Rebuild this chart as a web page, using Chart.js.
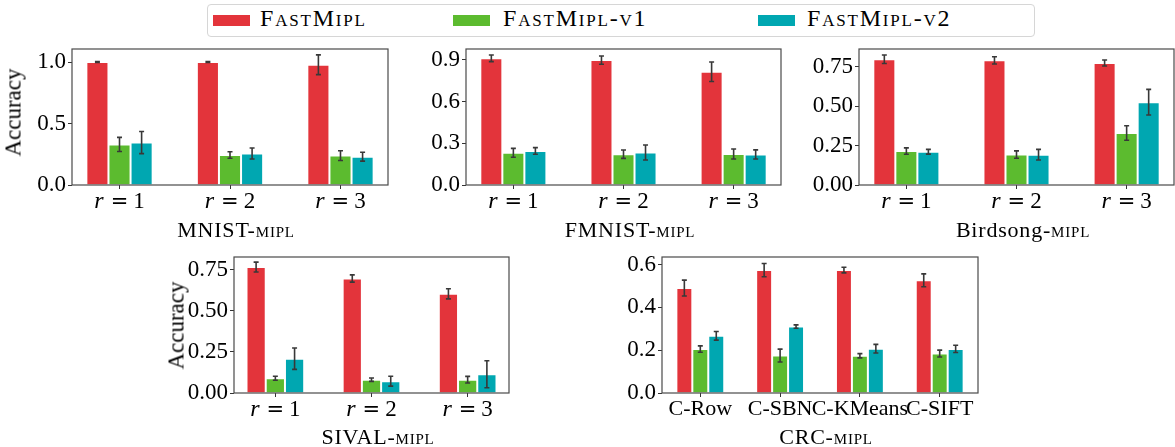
<!DOCTYPE html>
<html>
<head>
<meta charset="utf-8">
<script src="https://cdn.jsdelivr.net/npm/chart.js@4.4.1/dist/chart.umd.min.js"></script>
<style>
  html, body { margin: 0; padding: 0; background: #fff; }
  body { width: 1175px; height: 447px; position: relative; overflow: hidden; font-family: "Liberation Serif", "Times New Roman", serif; color: #000; }
  canvas { position: absolute; }
  .lgbox { position: absolute; left: 207px; top: 4px; width: 826px; height: 31px; border: 1px solid #d6d6d6; border-radius: 4px; background: #fff; }
  .sw { position: absolute; width: 37px; height: 11px; }
  .lt { position: absolute; font-size: 24px; line-height: 24px; top: 6px; font-variant: small-caps; letter-spacing: 1.8px; white-space: nowrap; }
  .ttl { position: absolute; width: 300px; text-align: center; font-size: 22px; line-height: 22px; white-space: nowrap; letter-spacing: 0.8px; z-index: 2; }
  .sc { font-variant: small-caps; }
  .ylab { position: absolute; width: 100px; height: 23px; font-size: 23px; line-height: 23px; text-align: center; white-space: nowrap; transform: rotate(-90deg); z-index: 2; }
</style>
</head>
<body>
<div class="lgbox"></div>
<div class="sw" style="left:213px;top:15px;background:#E3343B"></div>
<span class="lt" style="left:260px">FastMipl</span>
<div class="sw" style="left:453px;top:15px;background:#5CBB2F"></div>
<span class="lt" style="left:503px">FastMipl-v1</span>
<div class="sw" style="left:758px;top:15px;background:#00A7B1"></div>
<span class="lt" style="left:807px">FastMipl-v2</span>

<div class="ylab" style="left:-37px;top:101px">Accuracy</div>
<div class="ylab" style="left:126px;top:314px">Accuracy</div>

<div class="ttl" style="left:86px;top:219px">MNIST-<span class="sc">mipl</span></div>
<div class="ttl" style="left:480px;top:219px">FMNIST-<span class="sc">mipl</span></div>
<div class="ttl" style="left:873px;top:219px">Birdsong-<span class="sc">mipl</span></div>
<div class="ttl" style="left:228px;top:426px">SIVAL-<span class="sc">mipl</span></div>
<div class="ttl" style="left:676px;top:426px">CRC-<span class="sc">mipl</span></div>

<script>
// ---------- data ----------
const seriesNames = ['FastMipl', 'FastMipl-v1', 'FastMipl-v2'];
const seriesColors = ['#E3343B', '#5CBB2F', '#00A7B1'];

const rLabels = ['r = 1', 'r = 2', 'r = 3'];
const crcLabels = ['C-Row', 'C-SBN', 'C-KMeans', 'C-SIFT'];

// MNIST-MIPL
const mnistMain = [1.000, 1.000, 0.978];
const mnistMainErr = [0.003, 0.003, 0.080];
const mnistV1 = [0.330, 0.244, 0.239];
const mnistV1Err = [0.057, 0.027, 0.040];
const mnistV2 = [0.345, 0.256, 0.230];
const mnistV2Err = [0.090, 0.045, 0.036];
const mnistTicks = [0, 0.5, 1.0];
const mnistTickLabels = ['0.0', '0.5', '1.0'];

// FMNIST-MIPL
const fmnistMain = [0.912, 0.899, 0.815];
const fmnistMainErr = [0.024, 0.030, 0.070];
const fmnistV1 = [0.232, 0.222, 0.223];
const fmnistV1Err = [0.032, 0.030, 0.036];
const fmnistV2 = [0.245, 0.234, 0.220];
const fmnistV2Err = [0.024, 0.054, 0.033];
const fmnistTicks = [0, 0.3, 0.6, 0.9];
const fmnistTickLabels = ['0.0', '0.3', '0.6', '0.9'];

// Birdsong-MIPL
const birdMain = [0.797, 0.790, 0.773];
const birdMainErr = [0.027, 0.023, 0.019];
const birdV1 = [0.215, 0.193, 0.330];
const birdV1Err = [0.020, 0.023, 0.046];
const birdV2 = [0.211, 0.192, 0.525];
const birdV2Err = [0.015, 0.034, 0.081];
const birdTicks = [0, 0.25, 0.5, 0.75];
const birdTickLabels = ['0.00', '0.25', '0.50', '0.75'];

// SIVAL-MIPL
const sivalMain = [0.767, 0.697, 0.604];
const sivalMainErr = [0.030, 0.022, 0.031];
const sivalV1 = [0.090, 0.081, 0.081];
const sivalV1Err = [0.012, 0.010, 0.020];
const sivalV2 = [0.209, 0.072, 0.114];
const sivalV2Err = [0.065, 0.030, 0.082];
const sivalTicks = [0, 0.25, 0.5, 0.75];
const sivalTickLabels = ['0.00', '0.25', '0.50', '0.75'];

// CRC-MIPL
const crcMain = [0.490, 0.574, 0.574, 0.526];
const crcMainErr = [0.037, 0.031, 0.013, 0.030];
const crcV1 = [0.205, 0.175, 0.174, 0.184];
const crcV1Err = [0.015, 0.030, 0.010, 0.016];
const crcV2 = [0.267, 0.310, 0.207, 0.206];
const crcV2Err = [0.020, 0.008, 0.020, 0.017];
const crcTicks = [0, 0.2, 0.4, 0.6];
const crcTickLabels = ['0.0', '0.2', '0.4', '0.6'];

// ---------- plugins ----------
const framePlugin = {
  id: 'frame',
  afterDraw(chart) {
    const { ctx, chartArea: a } = chart;
    ctx.save();
    ctx.strokeStyle = '#4a4a4a';
    ctx.lineWidth = 1.2;
    ctx.strokeRect(a.left, a.top, a.right - a.left, a.bottom - a.top);
    ctx.restore();
  }
};

const errorPlugin = {
  id: 'errorbars',
  afterDatasetsDraw(chart) {
    const ctx = chart.ctx;
    const ys = chart.scales.y;
    ctx.save();
    ctx.strokeStyle = '#383838';
    ctx.lineWidth = 1.6;
    chart.data.datasets.forEach((ds, d) => {
      const meta = chart.getDatasetMeta(d);
      meta.data.forEach((el, i) => {
        const v = ds.data[i].y, e = ds.errors[i];
        const yt = ys.getPixelForValue(v + e), yb = ys.getPixelForValue(v - e);
        const x = el.x;
        ctx.beginPath();
        ctx.moveTo(x, yt); ctx.lineTo(x, yb);
        ctx.moveTo(x - 2.5, yt); ctx.lineTo(x + 2.5, yt);
        ctx.moveTo(x - 2.5, yb); ctx.lineTo(x + 2.5, yb);
        ctx.stroke();
      });
    });
    ctx.restore();
  }
};

function makeRTickPlugin(labels) {
  return {
    id: 'rticks',
    afterDraw(chart) {
      const ctx = chart.ctx, xs = chart.scales.x, a = chart.chartArea;
      ctx.save();
      ctx.fillStyle = '#000';
      ctx.textAlign = 'left';
      ctx.textBaseline = 'alphabetic';
      const y = a.bottom + 23;
      labels.forEach((lab, i) => {
        const idx = lab.indexOf(' ');
        const v = lab.slice(0, idx);
        const num = lab.slice(lab.lastIndexOf(' ') + 1);
        const parts = [
          { t: v, f: 'italic 24px "Liberation Serif"' },
          { gap: 7 },
          { t: '=', f: '21px "DejaVu Sans"' },
          { gap: 5 },
          { t: num, f: '23px "Liberation Serif"' }
        ];
        let total = 0;
        parts.forEach(p => {
          if (p.gap) { p.w = p.gap; } else { ctx.font = p.f; p.w = ctx.measureText(p.t).width; }
          total += p.w;
        });
        let x = xs.getPixelForValue(i) - total / 2;
        parts.forEach(p => {
          if (!p.gap) { ctx.font = p.f; ctx.fillText(p.t, x, y); }
          x += p.w;
        });
      });
      ctx.restore();
    }
  };
}

// ---------- panel builder ----------
function makePanel(cfg) {
  const [L, T, R, B] = cfg.rect;
  const padL = 62, padT = 16, padB = 62, padR = cfg.padR;
  const w = R - L + padL + padR, h = B - T + padT + padB;
  const cv = document.createElement('canvas');
  cv.width = w; cv.height = h;
  cv.style.left = (L - padL) + 'px';
  cv.style.top = (T - padT) + 'px';
  cv.style.width = w + 'px';
  cv.style.height = h + 'px';
  document.body.appendChild(cv);

  const n = cfg.cats.length;
  const datasets = cfg.series.map((s, k) => ({
    label: seriesNames[k],
    data: s[0].map((v, i) => ({ x: i, y: v })),
    errors: s[1],
    backgroundColor: seriesColors[k],
    borderColor: 'rgba(255,255,255,0.45)',
    borderWidth: 1,
    categoryPercentage: 0.6,
    barPercentage: 1.0
  }));

  const xFont = { family: '"Liberation Serif", serif', size: 22, lineHeight: 1 };
  const yFont = { family: '"Liberation Serif", serif', size: 23, lineHeight: 1 };
  const plugins = [framePlugin, errorPlugin];
  if (cfg.rTicks) plugins.push(makeRTickPlugin(cfg.cats));

  new Chart(cv, {
    type: 'bar',
    data: { datasets },
    options: {
      responsive: false,
      maintainAspectRatio: false,
      animation: false,
      devicePixelRatio: 1,
      layout: { padding: { left: 0, top: padT, right: padR, bottom: 0 } },
      plugins: { legend: { display: false }, tooltip: { enabled: false } },
      scales: {
        x: {
          type: 'linear',
          min: -0.3 - 0.05 * (n - 1 + 0.6),
          max: (n - 1) + 0.3 + 0.05 * (n - 1 + 0.6),
          offset: false,
          bounds: 'data',
          afterBuildTicks: s => { s.ticks = cfg.cats.map((c, i) => ({ value: i })); },
          afterFit: s => { s.height = padB; },
          grid: { display: true, drawOnChartArea: false, drawTicks: true, tickLength: 4, color: '#333', offset: false },
          border: { display: false },
          ticks: {
            display: !cfg.rTicks,
            callback: (v, i) => cfg.cats[i],
            font: xFont, color: '#000', padding: 1,
            maxRotation: 0, minRotation: 0, autoSkip: false
          }
        },
        y: {
          min: 0,
          max: cfg.ymax,
          bounds: 'data',
          afterBuildTicks: s => { s.ticks = cfg.yticks.map(v => ({ value: v })); },
          afterFit: s => { s.width = padL; },
          grid: { display: true, drawOnChartArea: false, drawTicks: true, tickLength: 4, color: '#333' },
          border: { display: false },
          ticks: {
            callback: (v, i) => cfg.ylabels[i],
            font: yFont, color: '#000', padding: 2
          }
        }
      }
    },
    plugins
  });
}

makePanel({ rect: [72, 49, 388, 185], padR: 4, cats: rLabels, rTicks: true, ymax: 1.106,
  yticks: mnistTicks, ylabels: mnistTickLabels,
  series: [[mnistMain, mnistMainErr], [mnistV1, mnistV1Err], [mnistV2, mnistV2Err]] });
makePanel({ rect: [466, 49, 781, 185], padR: 4, cats: rLabels, rTicks: true, ymax: 0.979,
  yticks: fmnistTicks, ylabels: fmnistTickLabels,
  series: [[fmnistMain, fmnistMainErr], [fmnistV1, fmnistV1Err], [fmnistV2, fmnistV2Err]] });
makePanel({ rect: [859, 49, 1174, 185], padR: 1, cats: rLabels, rTicks: true, ymax: 0.862,
  yticks: birdTicks, ylabels: birdTickLabels,
  series: [[birdMain, birdMainErr], [birdV1, birdV1Err], [birdV2, birdV2Err]] });
makePanel({ rect: [234, 257, 509, 393], padR: 4, cats: rLabels, rTicks: true, ymax: 0.828,
  yticks: sivalTicks, ylabels: sivalTickLabels,
  series: [[sivalMain, sivalMainErr], [sivalV1, sivalV1Err], [sivalV2, sivalV2Err]] });
makePanel({ rect: [662, 257, 978, 393], padR: 34, cats: crcLabels, rTicks: false, ymax: 0.635,
  yticks: crcTicks, ylabels: crcTickLabels,
  series: [[crcMain, crcMainErr], [crcV1, crcV1Err], [crcV2, crcV2Err]] });
</script>
</body>
</html>
